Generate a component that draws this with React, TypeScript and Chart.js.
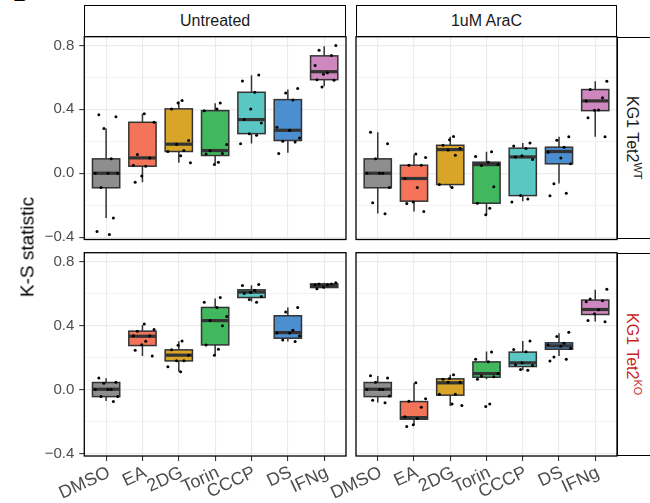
import React, { useEffect, useRef } from 'react';
import { Chart, registerables } from 'chart.js';
Chart.register(...registerables);

const FONT = '"Liberation Sans", Arial, Helvetica, sans-serif';

const CATEGORIES = ['DMSO', 'EA', '2DG', 'Torin', 'CCCP', 'DS', 'IFNg'];
const FILLS = ['#8e8e8e', '#f37459', '#d8a528', '#42b85e', '#5ac7c5', '#4b8fd1', '#cf88bf'];
const Y_TICKS = [-0.4, -0.2, 0, 0.2, 0.4, 0.6, 0.8];
const Y_MIN = -0.415;
const Y_MAX = 0.855;
const COLUMN_LABELS = ['Untreated', '1uM AraC'];

// box stats per category: [lower whisker, q1, median, q3, upper whisker]
const UNTREATED_WT_BOX = [
  [-0.28, -0.091, 0.0, 0.09, 0.28],
  [-0.056, 0.044, 0.096, 0.319, 0.373],
  [0.065, 0.136, 0.182, 0.403, 0.45],
  [0.06, 0.111, 0.142, 0.392, 0.438],
  [0.186, 0.248, 0.336, 0.507, 0.613],
  [0.128, 0.205, 0.269, 0.461, 0.524],
  [0.545, 0.586, 0.636, 0.735, 0.795],
];
const UNTREATED_WT_POINTS = [
  [0.367, 0.353, 0.28, 0.09, 0.0, 0.0, 0.0, -0.09, -0.28, -0.365, -0.384],
  [0.373, 0.319, 0.117, 0.096, 0.05, 0.044, -0.018, -0.056],
  [0.455, 0.44, 0.403, 0.205, 0.182, 0.142, 0.136, 0.11, 0.065],
  [0.44, 0.392, 0.403, 0.18, 0.14, 0.123, 0.12, 0.069, 0.054],
  [0.615, 0.578, 0.507, 0.403, 0.336, 0.315, 0.248, 0.238, 0.184],
  [0.53, 0.503, 0.459, 0.288, 0.269, 0.221, 0.2, 0.195, 0.123],
  [0.8, 0.77, 0.737, 0.674, 0.63, 0.62, 0.586, 0.583, 0.54],
];

const ARAC_WT_BOX = [
  [-0.252, -0.091, 0.0, 0.09, 0.257],
  [-0.24, -0.175, -0.033, 0.05, 0.117],
  [-0.09, -0.071, 0.148, 0.175, 0.228],
  [-0.26, -0.188, 0.054, 0.069, 0.134],
  [-0.175, -0.14, 0.102, 0.157, 0.19],
  [-0.064, 0.059, 0.136, 0.163, 0.228],
  [0.228, 0.392, 0.453, 0.524, 0.576],
];
const ARAC_WT_POINTS = [
  [0.257, 0.184, 0.09, 0.0, 0.0, 0.0, -0.09, -0.185, -0.253],
  [0.12, 0.098, 0.05, 0.05, -0.033, -0.09, -0.18, -0.19, -0.24],
  [0.23, 0.21, 0.175, 0.157, 0.146, 0.113, -0.07, -0.09],
  [0.134, 0.104, 0.069, 0.054, 0.048, -0.085, -0.188, -0.22, -0.26],
  [0.19, 0.171, 0.155, 0.11, 0.102, 0.086, -0.14, -0.162, -0.18],
  [0.228, 0.207, 0.163, 0.132, 0.096, 0.059, -0.066, -0.125, -0.141],
  [0.576, 0.524, 0.472, 0.453, 0.396, 0.394, 0.347, 0.228],
];

const UNTREATED_KO_BOX = [
  [-0.071, -0.044, 0.002, 0.044, 0.071],
  [0.21, 0.275, 0.333, 0.365, 0.404],
  [0.112, 0.179, 0.215, 0.248, 0.302],
  [0.217, 0.279, 0.431, 0.513, 0.569],
  [0.55, 0.575, 0.609, 0.623, 0.652],
  [0.3, 0.321, 0.356, 0.461, 0.513],
  [0.63, 0.6375, 0.65, 0.66, 0.667],
];
const UNTREATED_KO_POINTS = [
  [0.073, 0.046, 0.04, 0.0, 0.0, 0.0, -0.044, -0.044, -0.075],
  [0.41, 0.375, 0.365, 0.336, 0.336, 0.302, 0.28, 0.246, 0.21],
  [0.303, 0.277, 0.248, 0.215, 0.18, 0.18, 0.142, 0.112],
  [0.575, 0.546, 0.513, 0.456, 0.431, 0.398, 0.279, 0.252, 0.215],
  [0.656, 0.65, 0.62, 0.607, 0.6, 0.581, 0.5625, 0.546],
  [0.513, 0.484, 0.371, 0.354, 0.354, 0.335, 0.31, 0.3],
  [0.667, 0.66, 0.66, 0.655, 0.655, 0.64, 0.63],
];

const ARAC_KO_BOX = [
  [-0.081, -0.044, 0.002, 0.044, 0.084],
  [-0.221, -0.185, -0.175, -0.075, 0.04],
  [-0.102, -0.035, 0.042, 0.067, 0.092],
  [0.065, 0.077, 0.1, 0.173, 0.238],
  [0.121, 0.144, 0.167, 0.234, 0.304],
  [0.21, 0.252, 0.273, 0.292, 0.352],
  [0.425, 0.469, 0.5, 0.559, 0.623],
];
const ARAC_KO_POINTS = [
  [0.087, 0.073, 0.046, 0.0, 0.0, 0.0, -0.04, -0.067, -0.083],
  [0.042, -0.058, -0.073, -0.11, -0.17, -0.18, -0.22, -0.23],
  [0.092, 0.069, 0.065, 0.046, 0.046, -0.03, -0.03, -0.09, -0.1],
  [0.235, 0.19, 0.173, 0.1, 0.085, 0.08, 0.065, -0.09, -0.105],
  [0.304, 0.25, 0.236, 0.167, 0.155, 0.15, 0.125, 0.12],
  [0.358, 0.331, 0.29, 0.28, 0.27, 0.258, 0.204, 0.19, 0.179],
  [0.627, 0.565, 0.555, 0.548, 0.498, 0.473, 0.431, 0.423],
];

// fixed (non-random) horizontal jitter pattern, in category units
const JITTER = [-0.2, 0.27, -0.06, 0.14, -0.3, 0.05, 0.32, -0.14, 0.2, -0.25, 0.09, -0.02];
const BOX_HALF = 0.375;
const GRID = '#ebebeb';
const TICK_COLOR = '#333333';
const LABEL_COLOR = '#4d4d4d';

type Geo = {
  area: { l: number; t: number; r: number; b: number };
  canvas: { x: number; y: number; w: number; h: number };
};

const isMajor = (v: number) => Math.abs(Math.round(v / 0.4) * 0.4 - v) < 1e-6;
const fmt = (v: number) => (Math.abs(v) < 1e-9 ? '0.0' : v.toFixed(1).replace('-', '\u2212'));

function Panel({ boxes, points, showX, showY, geo }: { boxes: number[][]; points: number[][]; showX: boolean; showY: boolean; geo: Geo }) {
  const ref = useRef<HTMLCanvasElement>(null);
  useEffect(() => {
    if (!ref.current) return;
    const { area, canvas } = geo;
    const yAxisW = showY ? 60 : 0;
    const xAxisH = showX ? 47 : 0;
    const padding = {
      left: area.l - canvas.x - yAxisW,
      top: area.t - canvas.y,
      right: canvas.x + canvas.w - area.r,
      bottom: canvas.y + canvas.h - area.b - xAxisH,
    };
    const scatter: { x: number; y: number }[] = [];
    points.forEach((vals, i) =>
      vals.forEach((v, k) => scatter.push({ x: i + JITTER[(k + i * 5) % JITTER.length], y: v }))
    );
    const boxPlugin = {
      id: 'boxes',
      beforeDatasetsDraw(chart: any) {
        const { ctx, scales } = chart;
        const x = scales.x;
        const y = scales.y;
        ctx.save();
        boxes.forEach((b, i) => {
          const [lo, q1, med, q3, hi] = b;
          const cx = x.getPixelForValue(i);
          const hw = x.getPixelForValue(i + BOX_HALF) - cx;
          const pLo = y.getPixelForValue(lo);
          const pQ1 = y.getPixelForValue(q1);
          const pMed = y.getPixelForValue(med);
          const pQ3 = y.getPixelForValue(q3);
          const pHi = y.getPixelForValue(hi);
          ctx.strokeStyle = TICK_COLOR;
          ctx.lineWidth = 1.5;
          ctx.beginPath();
          ctx.moveTo(cx, pHi);
          ctx.lineTo(cx, pQ3);
          ctx.moveTo(cx, pQ1);
          ctx.lineTo(cx, pLo);
          ctx.stroke();
          ctx.fillStyle = FILLS[i];
          ctx.fillRect(cx - hw, pQ3, 2 * hw, pQ1 - pQ3);
          ctx.strokeRect(cx - hw, pQ3, 2 * hw, pQ1 - pQ3);
          ctx.lineWidth = 3.2;
          ctx.beginPath();
          ctx.moveTo(cx - hw, pMed);
          ctx.lineTo(cx + hw, pMed);
          ctx.stroke();
        });
        ctx.restore();
      },
      afterDatasetsDraw(chart: any) {
        const { ctx, chartArea } = chart;
        ctx.save();
        ctx.strokeStyle = '#000';
        ctx.lineWidth = 1.3;
        ctx.strokeRect(chartArea.left, chartArea.top, chartArea.right - chartArea.left, chartArea.bottom - chartArea.top);
        ctx.restore();
      },
    };
    const chart = new Chart(ref.current, {
      type: 'scatter',
      data: {
        datasets: [
          {
            data: scatter,
            pointRadius: 1.5,
            pointBackgroundColor: '#000',
            pointBorderWidth: 0,
            pointHoverRadius: 1.5,
          },
        ],
      },
      options: {
        responsive: false,
        animation: false,
        devicePixelRatio: 1,
        layout: { padding },
        events: [],
        plugins: { legend: { display: false }, tooltip: { enabled: false } },
        scales: {
          x: {
            type: 'linear',
            min: -0.6,
            max: 6.6,
            afterBuildTicks: (s: any) => {
              s.ticks = CATEGORIES.map((_, i) => ({ value: i }));
            },
            afterFit: (s: any) => {
              s.height = xAxisH;
              s.paddingLeft = 0;
              s.paddingRight = 0;
              s.paddingTop = 0;
              s.paddingBottom = 0;
            },
            border: { display: false },
            grid: {
              color: GRID,
              lineWidth: 1.1,
              drawTicks: showX,
              tickLength: 5,
              tickColor: TICK_COLOR,
              tickWidth: 1.1,
            },
            ticks: {
              display: showX,
              autoSkip: false,
              minRotation: 25,
              maxRotation: 25,
              padding: 1,
              labelOffset: 3,
              color: LABEL_COLOR,
              font: { family: FONT, size: 18 },
              callback: (v: any) => CATEGORIES[Math.round(Number(v))] ?? '',
            },
          },
          y: {
            type: 'linear',
            min: Y_MIN,
            max: Y_MAX,
            afterBuildTicks: (s: any) => {
              s.ticks = Y_TICKS.map((v) => ({ value: v }));
            },
            afterFit: (s: any) => {
              s.width = yAxisW;
              s.paddingLeft = 0;
              s.paddingRight = 0;
              s.paddingTop = 0;
              s.paddingBottom = 0;
            },
            border: { display: false },
            grid: {
              color: GRID,
              lineWidth: (c: any) => (c.tick && isMajor(c.tick.value) ? 1.2 : 0.6),
              drawTicks: showY,
              tickLength: 5,
              tickColor: (c: any) => (c.tick && isMajor(c.tick.value) ? TICK_COLOR : 'rgba(0,0,0,0)'),
              tickWidth: 1.1,
            },
            ticks: {
              display: showY,
              autoSkip: false,
              padding: 5,
              color: LABEL_COLOR,
              font: { family: FONT, size: 15 },
              callback: (v: any) => (isMajor(Number(v)) ? fmt(Number(v)) : ''),
            },
          },
        },
      } as any,
      plugins: [boxPlugin],
    });
    return () => chart.destroy();
  }, []);
  return (
    <canvas
      ref={ref}
      width={geo.canvas.w}
      height={geo.canvas.h}
      style={{ position: 'absolute', left: geo.canvas.x, top: geo.canvas.y, width: geo.canvas.w, height: geo.canvas.h }}
    />
  );
}

const TOP = { t: 36.7, b: 239.5 };
const BOT = { t: 252.7, b: 456 };
const LEFT = { l: 84.3, r: 346 };
const RIGHT = { l: 356, r: 617 };

const stripStyle: React.CSSProperties = {
  position: 'absolute',
  boxSizing: 'border-box',
  border: '1.3px solid #000',
  background: '#fff',
  color: '#1a1a1a',
  fontSize: 16,
  display: 'flex',
  alignItems: 'center',
  justifyContent: 'center',
};

function RowStrip({ top, bottom, children, color }: { top: number; bottom: number; children: React.ReactNode; color: string }) {
  return (
    <div style={{ ...stripStyle, left: RIGHT.r, top, width: 45, height: bottom - top, justifyContent: 'flex-start' }}>
      <div
        style={{
          width: 31,
          display: 'flex',
          justifyContent: 'center',
          alignItems: 'center',
          writingMode: 'vertical-rl',
          color,
          fontSize: 16,
          lineHeight: 1,
          whiteSpace: 'nowrap',
        }}
      >
        {children}
      </div>
    </div>
  );
}

export default function App() {
  return (
    <div
      style={{
        position: 'fixed',
        left: 0,
        top: 0,
        width: 650,
        height: 503,
        overflow: 'hidden',
        background: '#fff',
        fontFamily: FONT,
      }}
    >
      <div style={{ position: 'absolute', left: 13, top: -17, fontSize: 21, fontWeight: 'bold', lineHeight: 1, color: '#000' }}>B</div>
      <Panel boxes={UNTREATED_WT_BOX} points={UNTREATED_WT_POINTS} showX={false} showY={true}
        geo={{ area: { ...LEFT, ...TOP }, canvas: { x: 0, y: 30, w: 352, h: 216 } }} />
      <Panel boxes={ARAC_WT_BOX} points={ARAC_WT_POINTS} showX={false} showY={false}
        geo={{ area: { ...RIGHT, ...TOP }, canvas: { x: 350, y: 30, w: 273, h: 216 } }} />
      <Panel boxes={UNTREATED_KO_BOX} points={UNTREATED_KO_POINTS} showX={true} showY={true}
        geo={{ area: { ...LEFT, ...BOT }, canvas: { x: 0, y: 246, w: 352, h: 257 } }} />
      <Panel boxes={ARAC_KO_BOX} points={ARAC_KO_POINTS} showX={true} showY={false}
        geo={{ area: { ...RIGHT, ...BOT }, canvas: { x: 318, y: 246, w: 305, h: 257 } }} />
      <div style={{ ...stripStyle, left: LEFT.l, top: 5, width: LEFT.r - LEFT.l, height: TOP.t - 5 }}>{COLUMN_LABELS[0]}</div>
      <div style={{ ...stripStyle, left: RIGHT.l, top: 5, width: RIGHT.r - RIGHT.l, height: TOP.t - 5 }}>{COLUMN_LABELS[1]}</div>
      <RowStrip top={TOP.t} bottom={TOP.b} color="#1a1a1a">
        <span>KG1 Tet2<sup style={{ fontSize: 11 }}>WT</sup></span>
      </RowStrip>
      <RowStrip top={BOT.t} bottom={BOT.b} color="#cc1f1f">
        <span>KG1 Tet2<sup style={{ fontSize: 11 }}>KO</sup></span>
      </RowStrip>
      <div
        style={{
          position: 'absolute',
          left: 27,
          top: 246.5,
          transform: 'translate(-50%, -50%) rotate(-90deg)',
          fontSize: 19,
          color: '#000',
          whiteSpace: 'nowrap',
          lineHeight: 1,
        }}
      >
        K-S statistic
      </div>
    </div>
  );
}
